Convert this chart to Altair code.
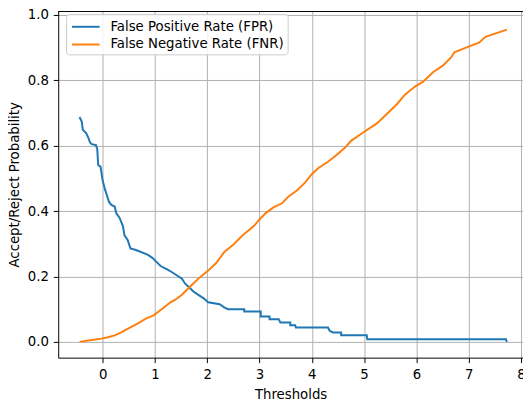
import altair as alt
import pandas as pd

# Series
fpr_x = [-0.443, -0.40, -0.38, -0.316, -0.273, -0.241, -0.211, -0.128, -0.104, -0.085,
         -0.041, -0.004, 0.041, 0.072, 0.122, 0.166, 0.230, 0.260, 0.324, 0.386,
         0.418, 0.480, 0.531, 0.637, 0.857, 0.951, 1.013, 1.107, 1.234, 1.328,
         1.422, 1.516, 1.578, 1.672, 1.736, 1.830, 1.925, 2.019, 2.237, 2.331,
         2.40, 2.708, 2.708, 3.023, 3.023, 3.192, 3.192, 3.367, 3.399, 3.588,
         3.588, 3.682, 3.695, 4.309, 4.341, 4.403, 4.561, 4.561, 5.051, 5.062,
         7.712, 7.731]
fpr_y = [0.688, 0.674, 0.649, 0.639, 0.624, 0.610, 0.605, 0.602, 0.590, 0.541,
         0.536, 0.497, 0.468, 0.453, 0.428, 0.419, 0.414, 0.394, 0.379, 0.355,
         0.326, 0.311, 0.286, 0.281, 0.267, 0.257, 0.247, 0.232, 0.222, 0.213,
         0.203, 0.193, 0.178, 0.164, 0.154, 0.144, 0.134, 0.121, 0.115, 0.105,
         0.100, 0.100, 0.093, 0.093, 0.078, 0.078, 0.069, 0.069, 0.059, 0.059,
         0.051, 0.051, 0.044, 0.044, 0.034, 0.029, 0.029, 0.020, 0.020, 0.008,
         0.008, 0.0]

fnr_x = [-0.44, -0.21, -0.02, 0.10, 0.23, 0.354, 0.512, 0.669, 0.825, 0.983,
         1.045, 1.171, 1.296, 1.39, 1.516, 1.704, 1.861, 2.019, 2.175, 2.331,
         2.49, 2.678, 2.896, 2.99, 3.117, 3.273, 3.431, 3.556, 3.714, 3.87,
         3.996, 4.12, 4.309, 4.467, 4.623, 4.75, 4.968, 5.25, 5.439, 5.627,
         5.785, 5.974, 6.13, 6.318, 6.506, 6.663, 6.727, 7.01, 7.198, 7.322,
         7.731]
fnr_y = [0.0, 0.006, 0.010, 0.014, 0.020, 0.029, 0.043, 0.056, 0.071, 0.082,
         0.090, 0.105, 0.121, 0.129, 0.144, 0.174, 0.198, 0.218, 0.242, 0.276,
         0.296, 0.326, 0.355, 0.373, 0.394, 0.412, 0.424, 0.445, 0.463, 0.487,
         0.512, 0.531, 0.551, 0.571, 0.592, 0.615, 0.639, 0.669, 0.698, 0.727,
         0.757, 0.781, 0.796, 0.825, 0.845, 0.870, 0.886, 0.904, 0.915, 0.933,
         0.955]

series_names = ["False Positive Rate (FPR)", "False Negative Rate (FNR)"]
series_colors = ["#1f77b4", "#ff7f0e"]
x_ticks = [0, 1, 2, 3, 4, 5, 6, 7, 8]
y_ticks = [0.0, 0.2, 0.4, 0.6, 0.8, 1.0]

rows = []
for i, (a, b) in enumerate(zip(fpr_x, fpr_y)):
    rows.append({"series": series_names[0], "x": a, "y": b, "i": i})
for i, (a, b) in enumerate(zip(fnr_x, fnr_y)):
    rows.append({"series": series_names[1], "x": a, "y": b, "i": i})
df = pd.DataFrame(rows)

W, H = 472, 352
FONT = "DejaVu Sans"
FS = 13.5

lines = alt.Chart(df).mark_line(strokeWidth=2).encode(
    x=alt.X("x:Q",
            scale=alt.Scale(domain=[-0.85, 8.039], nice=False, zero=False),
            axis=alt.Axis(values=x_ticks, title="Thresholds", labelFlush=False,
                          format="d", labelPadding=5, titlePadding=7)),
    y=alt.Y("y:Q",
            scale=alt.Scale(domain=[-0.0482, 1.012], nice=False, zero=False),
            axis=alt.Axis(values=y_ticks, title="Accept/Reject Probability",
                          format=".1f", labelPadding=5, titlePadding=6)),
    color=alt.Color("series:N",
                    scale=alt.Scale(domain=series_names, range=series_colors),
                    legend=alt.Legend(title=None, orient="none", legendX=8, legendY=3)),
    order="i:Q",
)

top_frame = alt.Chart(pd.DataFrame({"k": [0]})).mark_rule(color="black", strokeWidth=1).encode(
    x=alt.value(0), x2=alt.value(W), y=alt.value(0.5)
)

chart = alt.layer(lines, top_frame).properties(
    width=W, height=H,
    autosize=alt.AutoSizeParams(type="none"),
    padding={"left": 51, "top": 0, "right": 0, "bottom": 45},
).configure_view(stroke=None).configure_axis(
    labelFont=FONT, labelFontSize=FS, labelColor="#000",
    titleFont=FONT, titleFontSize=FS, titleColor="#000", titleFontWeight="normal",
    domainColor="#000", domainWidth=1, tickColor="#000", tickSize=5, tickWidth=1,
    gridColor="#b0b0b0", gridWidth=1,
).configure_legend(
    labelFont=FONT, labelFontSize=FS, labelColor="#000",
    symbolType="M-1.556,0H1.556", symbolStrokeWidth=2, symbolSize=324,
    symbolOffset=7, labelOffset=15,
    strokeColor="#cccccc", fillColor="rgba(255,255,255,0.85)", cornerRadius=3,
    padding=3, rowPadding=1, labelLimit=400,
)

chart.save("out.html", embed_options={"renderer": "svg", "actions": False})
